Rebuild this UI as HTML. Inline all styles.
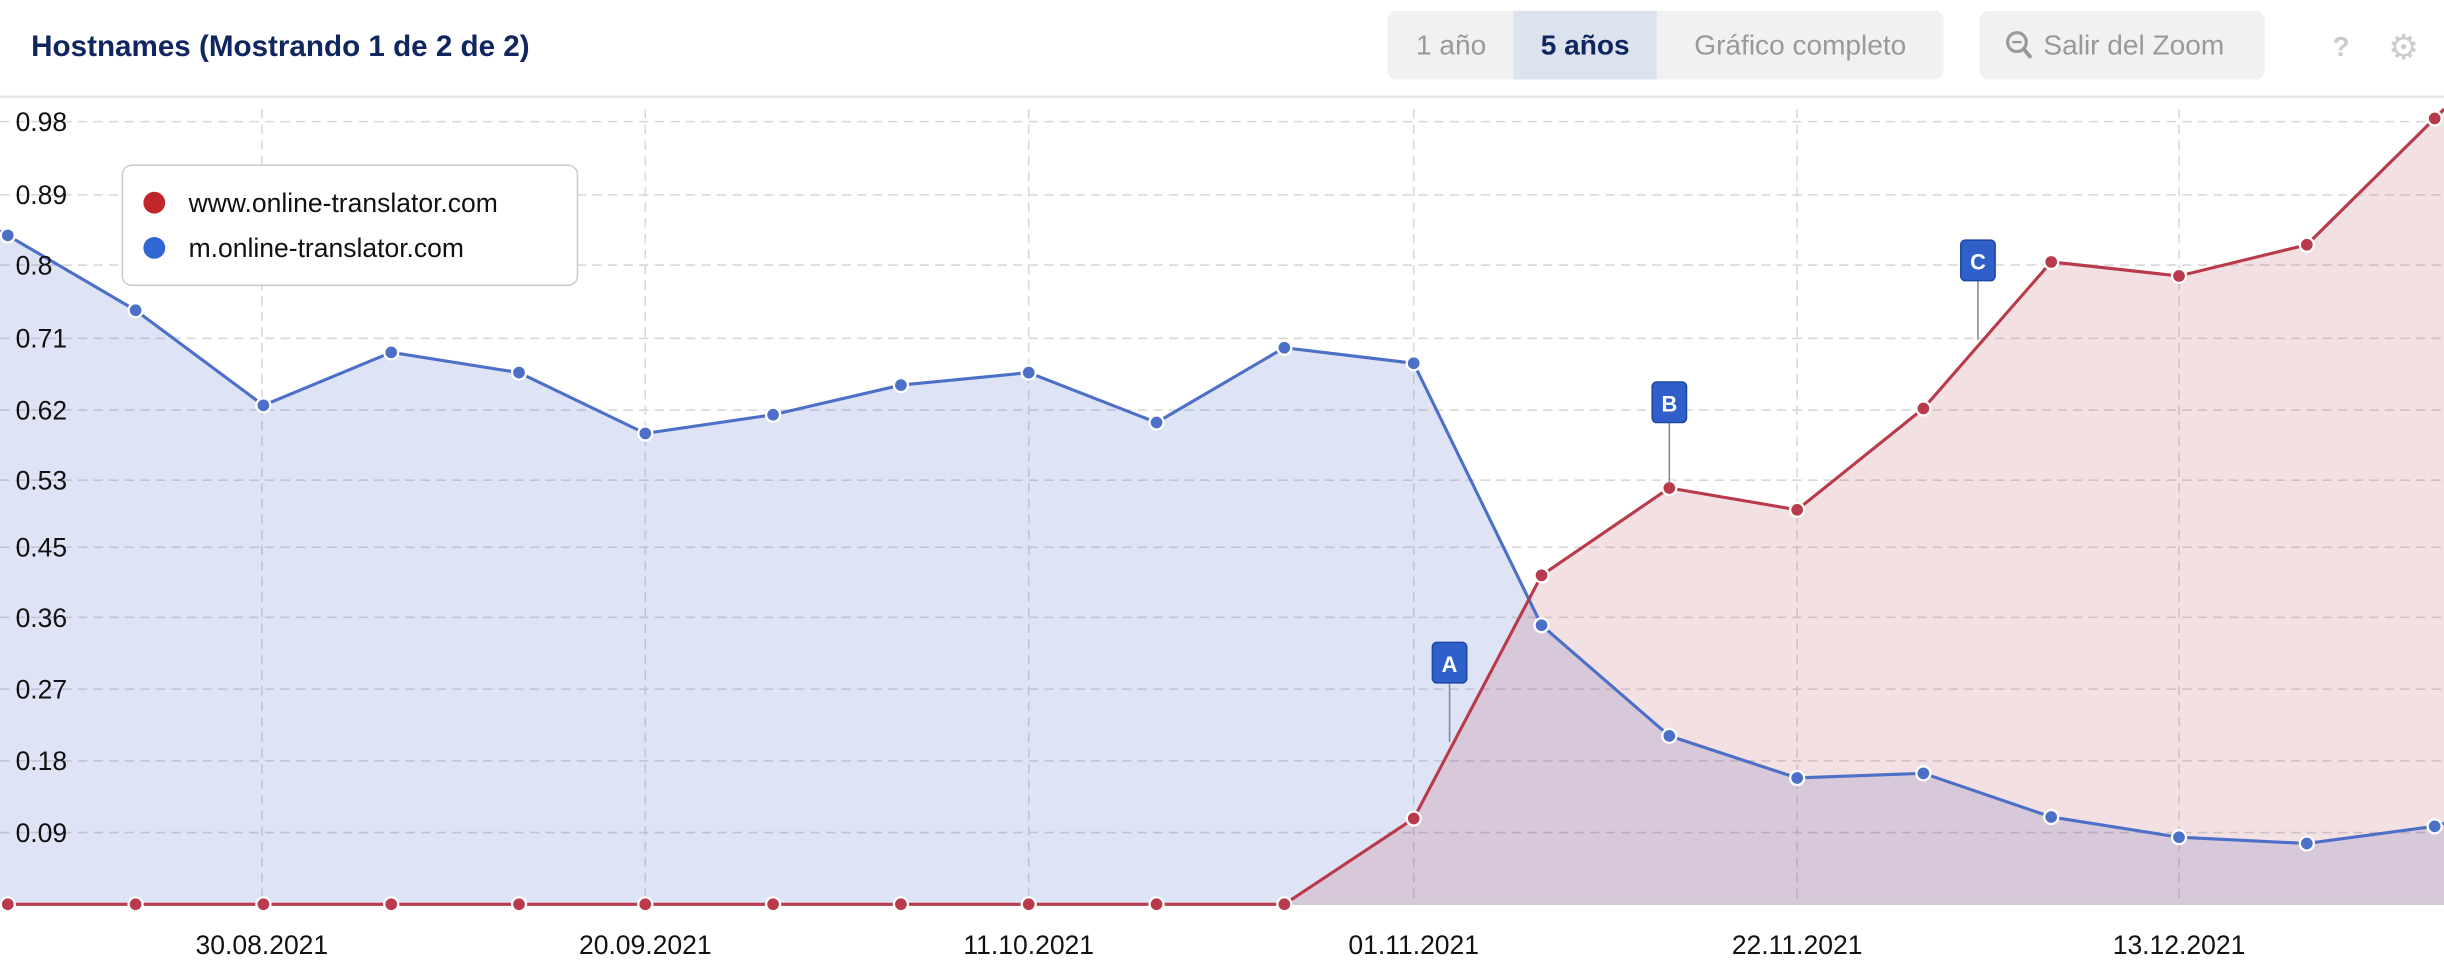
<!DOCTYPE html>
<html><head><meta charset="utf-8"><style>
html,body{margin:0;padding:0;background:#fff;}
svg{display:block;font-family:"Liberation Sans",sans-serif;}
</style></head><body>
<svg width="2444" height="976" viewBox="0 0 1568 626" preserveAspectRatio="none" xmlns="http://www.w3.org/2000/svg">
<rect width="1568" height="626" fill="#fff"/>
<text x="20" y="36" font-size="19" font-weight="bold" fill="#102660">Hostnames (Mostrando 1 de 2 de 2)</text>
<rect x="890" y="7" width="357" height="44" rx="6" fill="#f1f1f1"/>
<rect x="971" y="7" width="92" height="44" fill="#dde3ee"/>
<text x="931" y="35" font-size="18" fill="#999" text-anchor="middle">1 año</text>
<text x="1017" y="35" font-size="18" font-weight="bold" fill="#102660" text-anchor="middle">5 años</text>
<text x="1155" y="35" font-size="18" fill="#999" text-anchor="middle">Gráfico completo</text>
<rect x="1270" y="7" width="183" height="44" rx="6" fill="#f1f1f1"/>
<circle cx="1294" cy="27" r="6" fill="none" stroke="#999" stroke-width="2"/>
<line x1="1298" y1="31" x2="1303" y2="37" stroke="#999" stroke-width="2.5"/>
<line x1="1291" y1="27" x2="1297" y2="27" stroke="#999" stroke-width="1.5"/>
<text x="1311" y="35" font-size="18" fill="#999">Salir del Zoom</text>
<text x="1502" y="36" font-size="18" fill="#ccc" text-anchor="middle" font-weight="bold">?</text>
<text x="1542" y="38" font-size="22" fill="#ccc" text-anchor="middle">⚙</text>
<line x1="0" y1="62" x2="1568" y2="62" stroke="#e6e6e6" stroke-width="1.5"/>
<g stroke="#d8d8d8" stroke-dasharray="6,4" stroke-width="1">
<line x1="0" y1="78" x2="1568" y2="78"/><line x1="0" y1="125" x2="1568" y2="125"/><line x1="0" y1="170" x2="1568" y2="170"/><line x1="0" y1="217" x2="1568" y2="217"/><line x1="0" y1="263" x2="1568" y2="263"/><line x1="0" y1="308" x2="1568" y2="308"/><line x1="0" y1="351" x2="1568" y2="351"/><line x1="0" y1="396" x2="1568" y2="396"/><line x1="0" y1="442" x2="1568" y2="442"/><line x1="0" y1="488" x2="1568" y2="488"/><line x1="0" y1="534" x2="1568" y2="534"/>
<line x1="168" y1="70" x2="168" y2="580"/><line x1="414" y1="70" x2="414" y2="580"/><line x1="660" y1="70" x2="660" y2="580"/><line x1="907" y1="70" x2="907" y2="580"/><line x1="1153" y1="70" x2="1153" y2="580"/><line x1="1398" y1="70" x2="1398" y2="580"/>
</g>
<path d="M0,148 L5,151 L87,199 L169,260 L251,226 L333,239 L414,278 L496,266 L578,247 L660,239 L742,271 L824,223 L907,233 L989,401 L1071,472 L1153,499 L1234,496 L1316,524 L1398,537 L1480,541 L1562,530 L1568,528 L1568,580 L0,580 Z" fill="rgba(70,100,200,0.18)"/>
<path d="M824,580 L907,525 L989,369 L1071,313 L1153,327 L1234,262 L1316,168 L1398,177 L1480,157 L1562,76 L1568,70 L1568,580 Z" fill="rgba(180,60,80,0.16)"/>
<line x1="0" y1="580" x2="1568" y2="580" stroke="#ccc"/>
<path d="M0,148 L5,151 L87,199 L169,260 L251,226 L333,239 L414,278 L496,266 L578,247 L660,239 L742,271 L824,223 L907,233 L989,401 L1071,472 L1153,499 L1234,496 L1316,524 L1398,537 L1480,541 L1562,530 L1568,528" fill="none" stroke="#4c70c8" stroke-width="2"/>
<path d="M0,580 L824,580 L907,525 L989,369 L1071,313 L1153,327 L1234,262 L1316,168 L1398,177 L1480,157 L1562,76 L1568,70" fill="none" stroke="#b83a4b" stroke-width="2"/>
<g fill="#4c70c8" stroke="#fff" stroke-width="1.5">
<circle cx="5" cy="151" r="4.5"/><circle cx="87" cy="199" r="4.5"/><circle cx="169" cy="260" r="4.5"/><circle cx="251" cy="226" r="4.5"/><circle cx="333" cy="239" r="4.5"/><circle cx="414" cy="278" r="4.5"/><circle cx="496" cy="266" r="4.5"/><circle cx="578" cy="247" r="4.5"/><circle cx="660" cy="239" r="4.5"/><circle cx="742" cy="271" r="4.5"/><circle cx="824" cy="223" r="4.5"/><circle cx="907" cy="233" r="4.5"/><circle cx="989" cy="401" r="4.5"/><circle cx="1071" cy="472" r="4.5"/><circle cx="1153" cy="499" r="4.5"/><circle cx="1234" cy="496" r="4.5"/><circle cx="1316" cy="524" r="4.5"/><circle cx="1398" cy="537" r="4.5"/><circle cx="1480" cy="541" r="4.5"/><circle cx="1562" cy="530" r="4.5"/>
</g>
<g fill="#b83a4b" stroke="#fff" stroke-width="1.5">
<circle cx="5" cy="580" r="4.5"/><circle cx="87" cy="580" r="4.5"/><circle cx="169" cy="580" r="4.5"/><circle cx="251" cy="580" r="4.5"/><circle cx="333" cy="580" r="4.5"/><circle cx="414" cy="580" r="4.5"/><circle cx="496" cy="580" r="4.5"/><circle cx="578" cy="580" r="4.5"/><circle cx="660" cy="580" r="4.5"/><circle cx="742" cy="580" r="4.5"/><circle cx="824" cy="580" r="4.5"/><circle cx="907" cy="525" r="4.5"/><circle cx="989" cy="369" r="4.5"/><circle cx="1071" cy="313" r="4.5"/><circle cx="1153" cy="327" r="4.5"/><circle cx="1234" cy="262" r="4.5"/><circle cx="1316" cy="168" r="4.5"/><circle cx="1398" cy="177" r="4.5"/><circle cx="1480" cy="157" r="4.5"/><circle cx="1562" cy="76" r="4.5"/>
</g>
<g stroke="#888" stroke-width="1"><line x1="930" y1="438" x2="930" y2="476"/><line x1="1071" y1="271" x2="1071" y2="310"/><line x1="1269" y1="180" x2="1269" y2="218"/></g>
<g fill="#2f5fc9" stroke="#1d46a6" stroke-width="1">
<rect x="919" y="412" width="22" height="26" rx="3"/><rect x="1060" y="245" width="22" height="26" rx="3"/><rect x="1258" y="154" width="22" height="26" rx="3"/>
</g>
<g fill="#fff" font-size="14" font-weight="bold" text-anchor="middle">
<text x="930" y="431">A</text><text x="1071" y="264">B</text><text x="1269" y="173">C</text>
</g>
<g font-size="17" fill="#111">
<text x="10" y="84">0.98</text><text x="10" y="131">0.89</text><text x="10" y="176">0.8</text><text x="10" y="223">0.71</text><text x="10" y="269">0.62</text><text x="10" y="314">0.53</text><text x="10" y="357">0.45</text><text x="10" y="402">0.36</text><text x="10" y="448">0.27</text><text x="10" y="494">0.18</text><text x="10" y="540">0.09</text>
</g>
<g font-size="17" fill="#111" text-anchor="middle">
<text x="168" y="612">30.08.2021</text><text x="414" y="612">20.09.2021</text><text x="660" y="612">11.10.2021</text><text x="907" y="612">01.11.2021</text><text x="1153" y="612">22.11.2021</text><text x="1398" y="612">13.12.2021</text>
</g>
<rect x="78.5" y="106" width="292" height="77" rx="6" fill="#fff" stroke="#ccc" stroke-width="1"/>
<circle cx="99" cy="130" r="7" fill="#c0272d"/>
<circle cx="99" cy="159" r="7" fill="#2f66d0"/>
<text x="121" y="136" font-size="17" fill="#111">www.online-translator.com</text>
<text x="121" y="165" font-size="17" fill="#111">m.online-translator.com</text>
</svg>
</body></html>
